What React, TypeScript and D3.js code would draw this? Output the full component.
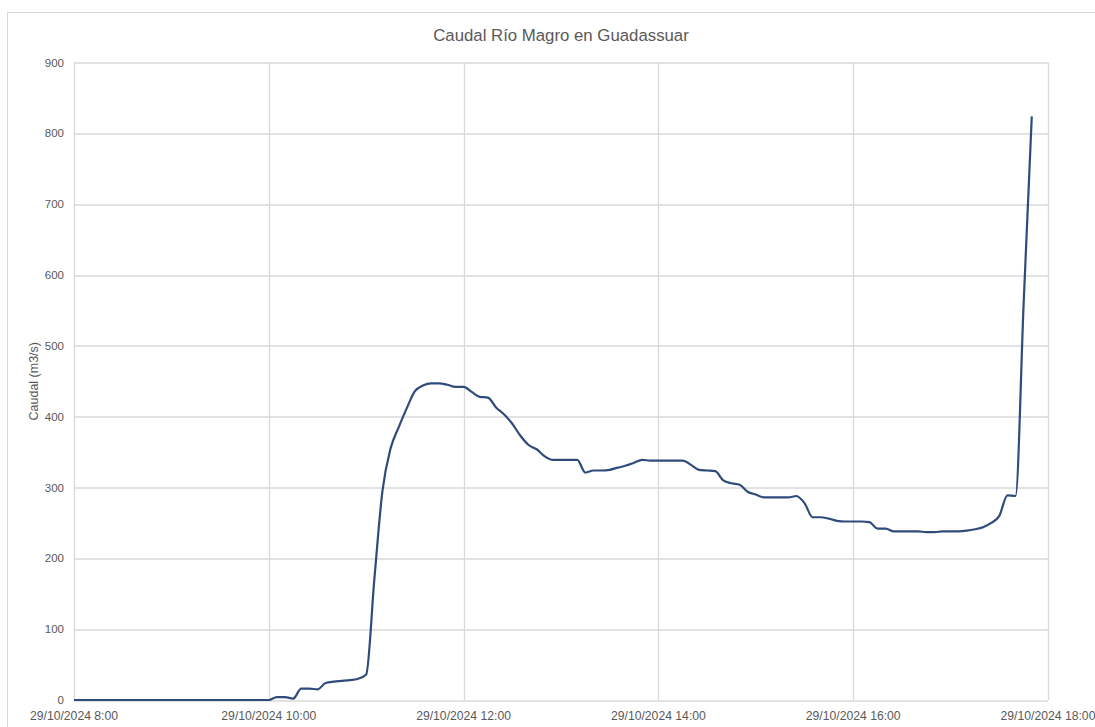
import React, { useMemo } from 'react';
import * as d3 from 'd3';

// readings (time of day, 29/10/2024) and flow in m3/s
const times = [
  '8:00', '9:00', '9:50', '9:55',
  '10:00', '10:05', '10:10', '10:15', '10:20', '10:25', '10:30', '10:35', '10:40', '10:45', '10:50', '10:55',
  '11:00', '11:05', '11:10', '11:15', '11:20', '11:25', '11:30', '11:35', '11:40', '11:45', '11:50', '11:55',
  '12:00', '12:05', '12:10', '12:15', '12:20', '12:25', '12:30', '12:35', '12:40', '12:45', '12:50', '12:55',
  '13:00', '13:05', '13:10', '13:15', '13:20', '13:25', '13:30', '13:35', '13:40', '13:45', '13:50', '13:55',
  '14:00', '14:05', '14:10', '14:15', '14:20', '14:25', '14:30', '14:35', '14:40', '14:45', '14:50', '14:55',
  '15:00', '15:05', '15:10', '15:15', '15:20', '15:25', '15:30', '15:35', '15:40', '15:45', '15:50', '15:55',
  '16:00', '16:05', '16:10', '16:15', '16:20', '16:25', '16:30', '16:35', '16:40', '16:45', '16:50', '16:55',
  '17:00', '17:05', '17:10', '17:15', '17:20', '17:25', '17:30', '17:35', '17:40', '17:45', '17:50',
];

const caudal = [
  0, 0, 0, 0,
  0, 4, 4, 2, 16, 16, 15, 24, 26, 27, 28, 30,
  36, 170, 295, 355, 385, 412, 436, 444, 447, 447, 445, 442,
  442, 435, 428, 427, 413, 403, 390, 373, 360, 354, 344, 339,
  339, 339, 339, 321, 324, 324, 325, 328, 331, 335, 339, 338,
  338, 338, 338, 338, 332, 325, 324, 323, 310, 306, 304, 294,
  290, 286, 286, 286, 286, 288, 278, 258, 258, 256, 253, 252,
  252, 252, 251, 242, 242, 238, 238, 238, 238, 237, 237, 238,
  238, 238, 239, 241, 244, 250, 260, 289, 288, 560, 824,
];

const xTicks = ['8:00', '10:00', '12:00', '14:00', '16:00', '18:00'];
const yTicks = [0, 100, 200, 300, 400, 500, 600, 700, 800, 900];

const parseTime = d3.timeParse('%d/%m/%Y %H:%M');
const day = '29/10/2024';

const App = () => {
  const svgWidth = 1095;
  const svgHeight = 727;
  const margin = { top: 62.5, right: 47, bottom: 27, left: 74 },
    width = svgWidth - margin.left - margin.right,
    height = svgHeight - margin.top - margin.bottom;

  const font = "'Liberation Sans', Arial, sans-serif";
  const textColor = '#595959';
  const gridColor = '#D9D9D9';

  const data = times.map((t, i) => ({ date: parseTime(`${day} ${t}`), value: caudal[i] }));

  const { xScale, yScale } = useMemo(() => {
    const xScale = d3
      .scaleTime()
      .domain([parseTime(`${day} 8:00`), parseTime(`${day} 18:00`)])
      .range([0, width]);
    const yScale = d3.scaleLinear().domain([0, 900]).range([height, 0]);
    return { xScale, yScale };
  }, []);

  const linePath = d3
    .line()
    .x((d) => xScale(d.date))
    .y((d) => yScale(d.value))
    .curve(d3.curveMonotoneX)(data);

  return (
    <svg
      width={svgWidth}
      height={svgHeight}
      style={{ position: 'absolute', left: 0, top: 0, background: '#fff' }}
    >
      {/* chart area border */}
      <rect x={7.5} y={12.5} width={1100} height={730} fill='#fff' stroke={gridColor} />

      {/* title */}
      <text
        x={margin.left + width / 2}
        y={41}
        textAnchor='middle'
        fontFamily={font}
        fontSize={16.8}
        fill={textColor}
      >
        Caudal Río Magro en Guadassuar
      </text>

      <g transform={`translate(${margin.left}, ${margin.top})`}>
        {/* horizontal gridlines */}
        {yTicks.map((v) => (
          <line
            key={'h' + v}
            x1={0}
            x2={width}
            y1={Math.round(yScale(v)) + 0.5}
            y2={Math.round(yScale(v)) + 0.5}
            stroke={gridColor}
            strokeWidth={1.3}
          />
        ))}
        {/* vertical gridlines */}
        {xTicks.map((t) => {
          const x = Math.round(xScale(parseTime(`${day} ${t}`))) + 0.5;
          return (
            <line key={'v' + t} x1={x} x2={x} y1={0} y2={height} stroke={gridColor} strokeWidth={1.3} />
          );
        })}

        {/* y labels */}
        {yTicks.map((v) => (
          <text
            key={'yl' + v}
            x={-10}
            y={yScale(v) + 4}
            textAnchor='end'
            fontFamily={font}
            fontSize={11.5}
            fill={textColor}
          >
            {v}
          </text>
        ))}

        {/* x labels */}
        {xTicks.map((t) => (
          <text
            key={'xl' + t}
            x={xScale(parseTime(`${day} ${t}`))}
            y={height + 20}
            textAnchor='middle'
            fontFamily={font}
            fontSize={12.2}
            fill={textColor}
          >
            {`${day} ${t}`}
          </text>
        ))}

        {/* series */}
        <path d={linePath} fill='none' stroke='#2F4B7C' strokeWidth={2.2} strokeLinejoin='round' />
      </g>

      {/* y axis title */}
      <text
        transform={`translate(${38}, ${margin.top + height / 2}) rotate(-90)`}
        textAnchor='middle'
        fontFamily={font}
        fontSize={12.5}
        fill={textColor}
      >
        Caudal (m3/s)
      </text>
    </svg>
  );
};

export default App;
